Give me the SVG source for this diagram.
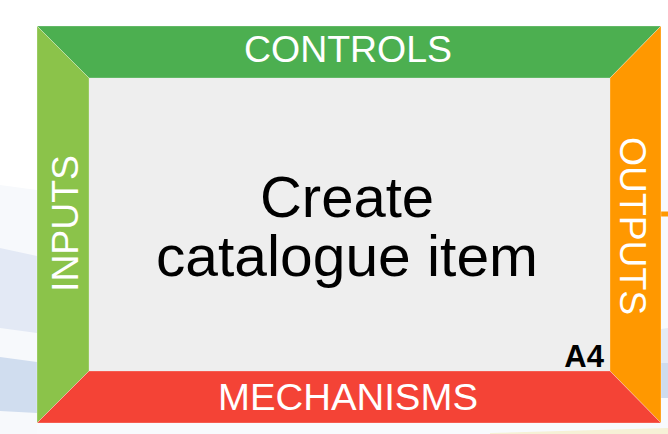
<svg xmlns="http://www.w3.org/2000/svg" width="668" height="434" viewBox="0 0 668 434">
  <defs>
    <linearGradient id="inGrad" x1="0" y1="0" x2="1" y2="0">
      <stop offset="0" stop-color="#9ea52a"/>
      <stop offset="1" stop-color="#4caf50"/>
    </linearGradient>
    <style>
      .lbl { font-family: "Liberation Sans", Arial, sans-serif; font-size: 36px; fill: #ffffff; text-anchor: middle; }
      .title { font-family: "Liberation Sans", Arial, sans-serif; font-size: 58px; fill: #000000; text-anchor: middle; }
      .edge { stroke: #ffffff; stroke-opacity: 0.45; stroke-width: 0.6; }
    </style>
  </defs>

  <!-- background swooshes -->
  <g id="background">
    <rect x="0" y="0" width="668" height="434" fill="#ffffff"/>
    <polygon points="0,185 37,190 37,434 0,434" fill="#f7f9fc"/>
    <polygon points="0,248 37,256 37,333 0,328" fill="#e3e9f5"/>
    <polygon points="0,357 37,362 37,413 0,411" fill="#d0ddef"/>
    <rect x="37" y="423" width="631" height="11" fill="#f8fafd"/>
    <polygon points="661,180 668,180 668,434 661,434" fill="#f8fafd"/>
    <polygon points="661,329 668,328 668,363 661,363" fill="#e5ebf5"/>
    <polygon points="661,363 668,363 668,398 661,398" fill="#cfdcee"/>
    <polygon points="490,433 668,428 668,434 490,434" fill="#f6f1d6"/>
  </g>

  <g id="connectors">
    <line x1="0" y1="207" x2="37" y2="207" stroke="url(#inGrad)" stroke-width="6"/>
    <line x1="0" y1="261" x2="37" y2="261" stroke="url(#inGrad)" stroke-width="6"/>
    <line x1="661" y1="214" x2="668" y2="214" stroke="#ff9800" stroke-width="5"/>
  </g>

  <g id="activity-A4">
    <polygon class="edge" points="37,26 661,26 610,78 89,78" fill="#4caf50"/>
    <polygon class="edge" points="37,26 89,78 89,371 37,423" fill="#8bc34a"/>
    <polygon class="edge" points="661,26 661,423 610,371 610,78" fill="#ff9800"/>
    <polygon class="edge" points="37,423 89,371 610,371 661,423" fill="#f44336"/>
    <rect x="89" y="78" width="521" height="293" fill="#eeeeee"/>

    <text class="lbl" x="348" y="62" textLength="208" lengthAdjust="spacingAndGlyphs">CONTROLS</text>
    <text class="lbl" transform="translate(78,223.5) rotate(-90)" x="0" y="0" textLength="137" lengthAdjust="spacingAndGlyphs">INPUTS</text>
    <text class="lbl" transform="translate(620,226) rotate(90)" x="0" y="0" textLength="178" lengthAdjust="spacingAndGlyphs">OUTPUTS</text>
    <text class="lbl" x="348" y="410" textLength="260" lengthAdjust="spacingAndGlyphs">MECHANISMS</text>

    <text class="title" x="347" y="217">Create</text>
    <text class="title" x="347" y="276" textLength="382" lengthAdjust="spacingAndGlyphs">catalogue item</text>

    <text x="604" y="367" font-family="Liberation Sans, Arial, sans-serif" font-size="31" font-weight="bold" fill="#000000" text-anchor="end">A4</text>
  </g>
</svg>
